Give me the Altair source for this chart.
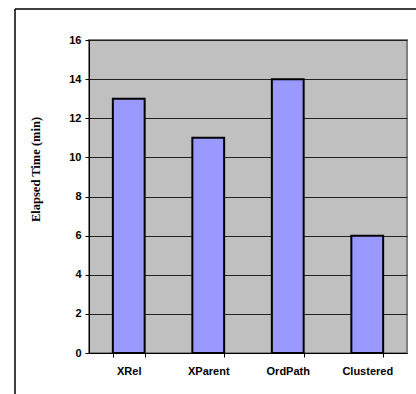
import altair as alt
import pandas as pd

# Elapsed time per storage scheme
schemes = ["XRel", "XParent", "OrdPath", "Clustered"]
minutes = [13, 11, 14, 6]

df = pd.DataFrame({"scheme": schemes, "minutes": minutes})
frame = pd.DataFrame({"frame": [0]})

W, H = 318, 313

bars = alt.Chart(df).mark_bar(
    color="#9999FF", stroke="#000000", strokeWidth=2
).encode(
    x=alt.X(
        "scheme:N",
        sort=schemes,
        scale=alt.Scale(paddingInner=0.6, paddingOuter=0.3),
        axis=alt.Axis(
            title=None, labelAngle=0, tickBand="extent", tickSize=4,
            labelPadding=8, labelFont="Liberation Sans", labelFontSize=11,
            labelFontWeight="bold", labelColor="#000000",
            domainColor="#000000", tickColor="#000000", grid=False,
        ),
    ),
    y=alt.Y(
        "minutes:Q",
        scale=alt.Scale(domain=[0, 16], nice=False),
        axis=alt.Axis(
            title="Elapsed Time (min)", values=list(range(0, 17, 2)),
            tickSize=4, labelPadding=4, labelFont="Liberation Sans",
            labelFontSize=11, labelFontWeight="bold", labelColor="#000000",
            domainColor="#000000", tickColor="#000000",
            grid=True, gridColor="#222222", gridWidth=1,
            titleFont="Liberation Serif", titleFontSize=12.5,
            titleFontWeight="bold", titleColor="#000000",
            titleAngle=270, titleAlign="center", titleBaseline="middle",
            titleX=-54, titleY=129,
        ),
    ),
)

# Outer chart frame (top and left edges)
top_edge = alt.Chart(frame).mark_rule(color="#000000", strokeWidth=1.5).encode(
    x=alt.value(-74), x2=alt.value(W + 40), y=alt.value(-31)
)
left_edge = alt.Chart(frame).mark_rule(color="#000000", strokeWidth=1.5).encode(
    x=alt.value(-74), y=alt.value(-31), y2=alt.value(H + 60)
)

chart = alt.layer(bars, top_edge, left_edge).properties(
    width=W, height=H,
    autosize=alt.AutoSizeParams(type="none"),
    padding={"left": 89, "top": 40, "right": 9, "bottom": 41},
    background="#FFFFFF",
).configure_view(
    fill="#C0C0C0", stroke="#808080", strokeWidth=2
)

chart.save("out.html", embed_options={"renderer": "svg", "actions": False})
